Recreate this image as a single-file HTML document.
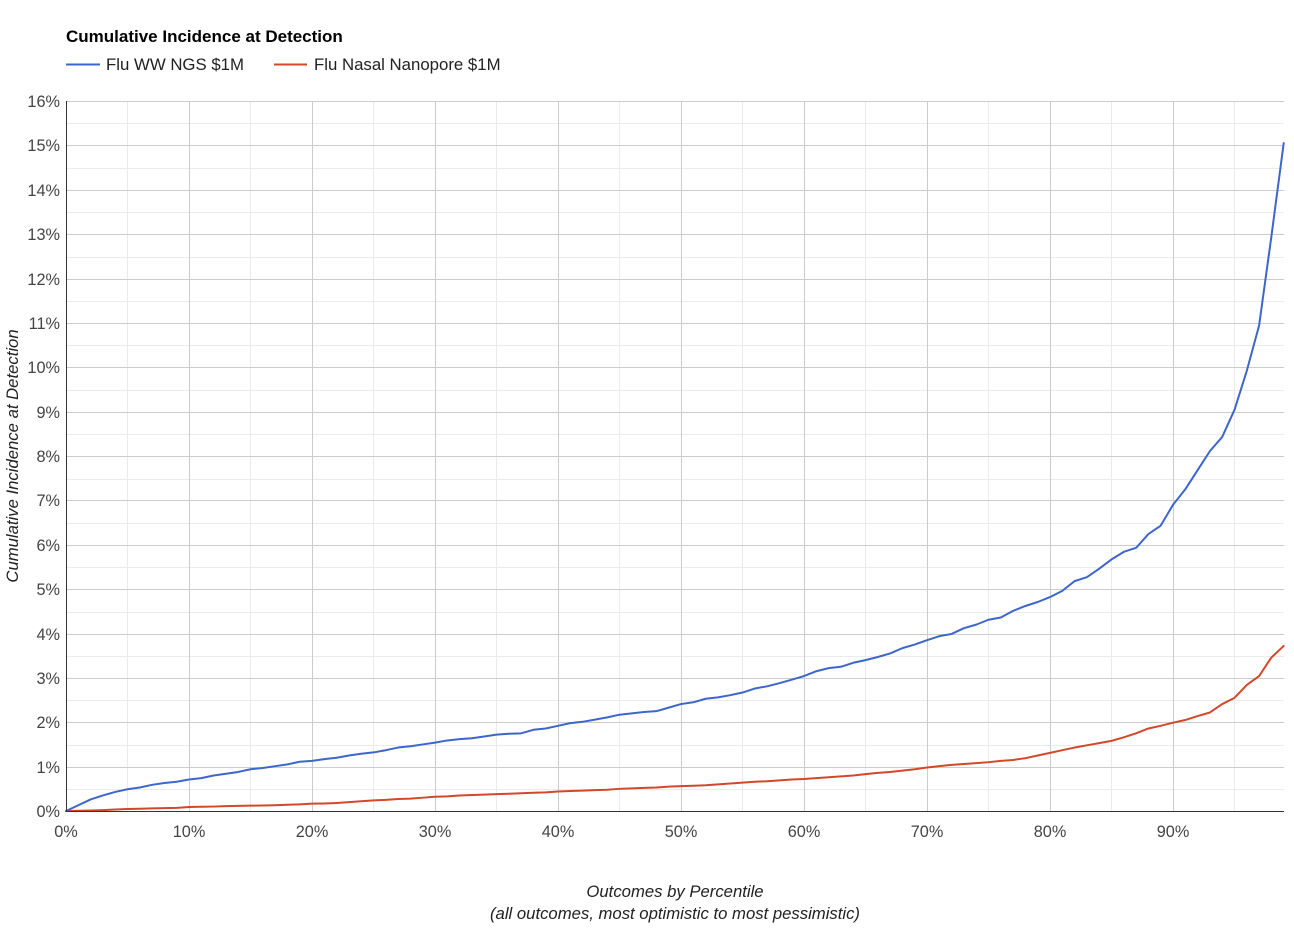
<!DOCTYPE html>
<html>
<head>
<meta charset="utf-8">
<style>
  html, body { margin: 0; padding: 0; background: #fff; }
  body { width: 1294px; height: 938px; overflow: hidden; }
  svg { display: block; font-family: "Liberation Sans", Arial, sans-serif; }
</style>
</head>
<body>
<svg width="1294" height="938" viewBox="0 0 1294 938" xmlns="http://www.w3.org/2000/svg">
  <rect x="0" y="0" width="1294" height="938" fill="#fff"/>

  <!-- Title -->
  <text x="66" y="42" font-size="17" font-weight="bold" fill="#000">Cumulative Incidence at Detection</text>

  <!-- Legend -->
  <line x1="66" y1="64.5" x2="100" y2="64.5" stroke="#3d66cc" stroke-width="2"/>
  <text x="106" y="70" font-size="16.8" fill="#222">Flu WW NGS $1M</text>
  <line x1="274" y1="64.5" x2="307" y2="64.5" stroke="#d3472a" stroke-width="2"/>
  <text x="314" y="70" font-size="16.8" fill="#222">Flu Nasal Nanopore $1M</text>

  <!-- Minor gridlines -->
  <g stroke="#ebebeb" stroke-width="1">
    <line x1="66" x2="1284" y1="123.5" y2="123.5"/>
    <line x1="66" x2="1284" y1="168.5" y2="168.5"/>
    <line x1="66" x2="1284" y1="212.5" y2="212.5"/>
    <line x1="66" x2="1284" y1="257.5" y2="257.5"/>
    <line x1="66" x2="1284" y1="301.5" y2="301.5"/>
    <line x1="66" x2="1284" y1="345.5" y2="345.5"/>
    <line x1="66" x2="1284" y1="390.5" y2="390.5"/>
    <line x1="66" x2="1284" y1="434.5" y2="434.5"/>
    <line x1="66" x2="1284" y1="479.5" y2="479.5"/>
    <line x1="66" x2="1284" y1="523.5" y2="523.5"/>
    <line x1="66" x2="1284" y1="567.5" y2="567.5"/>
    <line x1="66" x2="1284" y1="612.5" y2="612.5"/>
    <line x1="66" x2="1284" y1="656.5" y2="656.5"/>
    <line x1="66" x2="1284" y1="700.5" y2="700.5"/>
    <line x1="66" x2="1284" y1="745.5" y2="745.5"/>
    <line x1="66" x2="1284" y1="789.5" y2="789.5"/>
    <line y1="101" y2="811" x1="127.5" x2="127.5"/>
    <line y1="101" y2="811" x1="250.5" x2="250.5"/>
    <line y1="101" y2="811" x1="373.5" x2="373.5"/>
    <line y1="101" y2="811" x1="496.5" x2="496.5"/>
    <line y1="101" y2="811" x1="619.5" x2="619.5"/>
    <line y1="101" y2="811" x1="742.5" x2="742.5"/>
    <line y1="101" y2="811" x1="865.5" x2="865.5"/>
    <line y1="101" y2="811" x1="988.5" x2="988.5"/>
    <line y1="101" y2="811" x1="1111.5" x2="1111.5"/>
    <line y1="101" y2="811" x1="1234.5" x2="1234.5"/>
  </g>

  <!-- Major gridlines -->
  <g stroke="#cccccc" stroke-width="1">
    <line x1="66" x2="1284" y1="101.5" y2="101.5"/>
    <line x1="66" x2="1284" y1="145.5" y2="145.5"/>
    <line x1="66" x2="1284" y1="190.5" y2="190.5"/>
    <line x1="66" x2="1284" y1="234.5" y2="234.5"/>
    <line x1="66" x2="1284" y1="279.5" y2="279.5"/>
    <line x1="66" x2="1284" y1="323.5" y2="323.5"/>
    <line x1="66" x2="1284" y1="367.5" y2="367.5"/>
    <line x1="66" x2="1284" y1="412.5" y2="412.5"/>
    <line x1="66" x2="1284" y1="456.5" y2="456.5"/>
    <line x1="66" x2="1284" y1="500.5" y2="500.5"/>
    <line x1="66" x2="1284" y1="545.5" y2="545.5"/>
    <line x1="66" x2="1284" y1="589.5" y2="589.5"/>
    <line x1="66" x2="1284" y1="634.5" y2="634.5"/>
    <line x1="66" x2="1284" y1="678.5" y2="678.5"/>
    <line x1="66" x2="1284" y1="722.5" y2="722.5"/>
    <line x1="66" x2="1284" y1="767.5" y2="767.5"/>
    <line y1="101" y2="811" x1="189.5" x2="189.5"/>
    <line y1="101" y2="811" x1="312.5" x2="312.5"/>
    <line y1="101" y2="811" x1="435.5" x2="435.5"/>
    <line y1="101" y2="811" x1="558.5" x2="558.5"/>
    <line y1="101" y2="811" x1="681.5" x2="681.5"/>
    <line y1="101" y2="811" x1="804.5" x2="804.5"/>
    <line y1="101" y2="811" x1="927.5" x2="927.5"/>
    <line y1="101" y2="811" x1="1050.5" x2="1050.5"/>
    <line y1="101" y2="811" x1="1173.5" x2="1173.5"/>
  </g>

  <!-- Y tick labels -->
  <g font-size="16.3" fill="#444" text-anchor="end">
    <text x="60" y="107">16%</text>
    <text x="60" y="151">15%</text>
    <text x="60" y="196">14%</text>
    <text x="60" y="240">13%</text>
    <text x="60" y="285">12%</text>
    <text x="60" y="329">11%</text>
    <text x="60" y="373">10%</text>
    <text x="60" y="418">9%</text>
    <text x="60" y="462">8%</text>
    <text x="60" y="506">7%</text>
    <text x="60" y="551">6%</text>
    <text x="60" y="595">5%</text>
    <text x="60" y="640">4%</text>
    <text x="60" y="684">3%</text>
    <text x="60" y="728">2%</text>
    <text x="60" y="773">1%</text>
    <text x="60" y="817">0%</text>
  </g>

  <!-- X tick labels -->
  <g font-size="16.3" fill="#444" text-anchor="middle">
    <text x="66" y="837">0%</text>
    <text x="189" y="837">10%</text>
    <text x="312" y="837">20%</text>
    <text x="435" y="837">30%</text>
    <text x="558" y="837">40%</text>
    <text x="681" y="837">50%</text>
    <text x="804" y="837">60%</text>
    <text x="927" y="837">70%</text>
    <text x="1050" y="837">80%</text>
    <text x="1173" y="837">90%</text>
  </g>

  <!-- Series -->
  <g transform="translate(66,811) scale(12.3,-44.375)" fill="none" stroke-linejoin="round" stroke-linecap="round">
    <polyline vector-effect="non-scaling-stroke" stroke="#d3472a" stroke-width="2"
      points="0,0 1,0.005 2,0.01 3,0.02 4,0.035 5,0.045 6,0.05 7,0.06 8,0.065 9,0.07 10,0.09 11,0.095 12,0.1 13,0.11 14,0.115 15,0.12 16,0.125 17,0.13 18,0.14 19,0.15 20,0.165 21,0.17 22,0.18 23,0.2 24,0.22 25,0.24 26,0.25 27,0.27 28,0.28 29,0.3 30,0.32 31,0.33 32,0.35 33,0.36 34,0.37 35,0.38 36,0.39 37,0.4 38,0.41 39,0.42 40,0.44 41,0.45 42,0.46 43,0.47 44,0.48 45,0.5 46,0.51 47,0.52 48,0.53 49,0.55 50,0.56 51,0.57 52,0.58 53,0.6 54,0.62 55,0.64 56,0.66 57,0.67 58,0.69 59,0.71 60,0.72 61,0.74 62,0.76 63,0.78 64,0.8 65,0.83 66,0.86 67,0.88 68,0.91 69,0.94 70,0.98 71,1.01 72,1.04 73,1.06 74,1.08 75,1.1 76,1.13 77,1.15 78,1.19 79,1.25 80,1.31 81,1.37 82,1.43 83,1.48 84,1.53 85,1.58 86,1.66 87,1.75 88,1.86 89,1.92 90,1.99 91,2.05 92,2.14 93,2.22 94,2.41 95,2.55 96,2.84 97,3.04 98,3.46 99,3.72"/>
    <polyline vector-effect="non-scaling-stroke" stroke="#3d66cc" stroke-width="2"
      points="0,0 1,0.13 2,0.26 3,0.35 4,0.43 5,0.49 6,0.53 7,0.59 8,0.63 9,0.66 10,0.71 11,0.74 12,0.8 13,0.84 14,0.88 15,0.94 16,0.97 17,1.01 18,1.05 19,1.11 20,1.13 21,1.17 22,1.2 23,1.25 24,1.29 25,1.32 26,1.37 27,1.43 28,1.46 29,1.5 30,1.54 31,1.59 32,1.62 33,1.64 34,1.68 35,1.72 36,1.74 37,1.75 38,1.83 39,1.86 40,1.92 41,1.98 42,2.01 43,2.06 44,2.11 45,2.17 46,2.2 47,2.23 48,2.25 49,2.33 50,2.41 51,2.45 52,2.53 53,2.56 54,2.61 55,2.67 56,2.76 57,2.81 58,2.88 59,2.96 60,3.04 61,3.15 62,3.22 63,3.25 64,3.34 65,3.4 66,3.47 67,3.55 68,3.67 69,3.75 70,3.85 71,3.94 72,3.99 73,4.12 74,4.2 75,4.31 76,4.36 77,4.51 78,4.62 79,4.71 80,4.82 81,4.96 82,5.18 83,5.27 84,5.46 85,5.67 86,5.84 87,5.93 88,6.24 89,6.43 90,6.9 91,7.25 92,7.68 93,8.11 94,8.43 95,9.04 96,9.92 97,10.94 98,12.95 99,15.05"/>
  </g>

  <!-- Axes -->
  <line x1="66.5" y1="101" x2="66.5" y2="811.5" stroke="#333" stroke-width="1"/>
  <line x1="66" y1="811.5" x2="1284" y2="811.5" stroke="#333" stroke-width="1"/>

  <!-- Axis titles -->
  <text transform="translate(18,456) rotate(-90)" text-anchor="middle" font-size="16.7" font-style="italic" fill="#222">Cumulative Incidence at Detection</text>
  <text x="675" y="897" text-anchor="middle" font-size="16.7" font-style="italic" fill="#222">Outcomes by Percentile</text>
  <text x="675" y="919" text-anchor="middle" font-size="16.7" font-style="italic" fill="#222">(all outcomes, most optimistic to most pessimistic)</text>
</svg>
</body>
</html>
